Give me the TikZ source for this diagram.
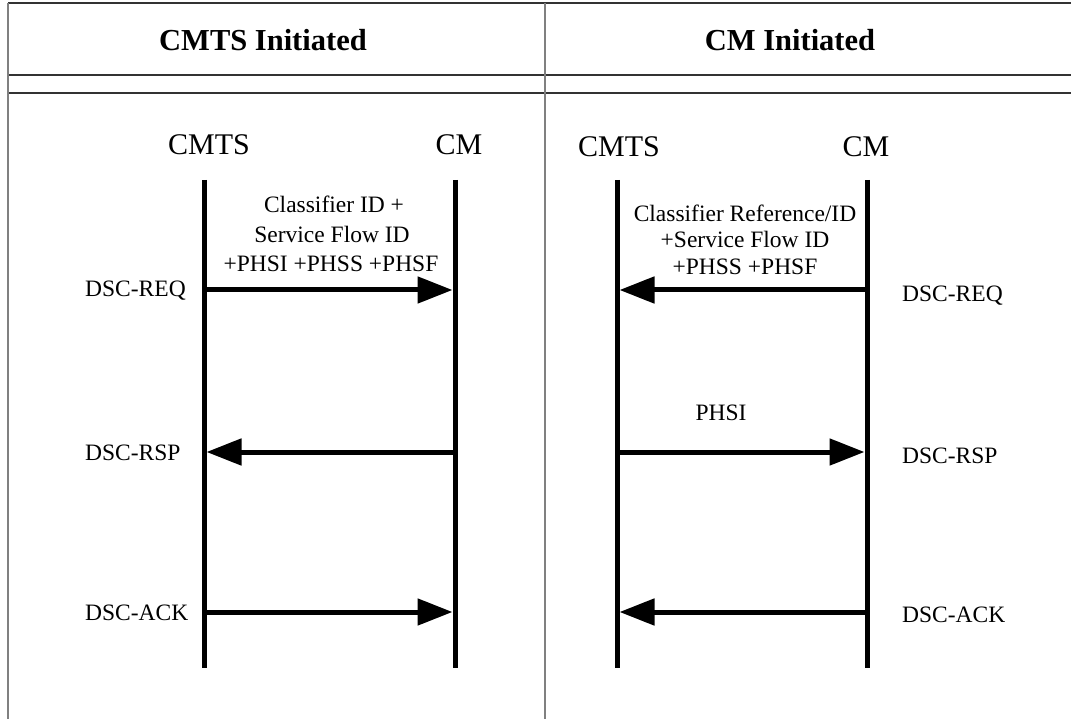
\documentclass[tikz,border=0pt]{standalone}
\usepackage{fontspec}
\setmainfont{Liberation Serif}
\usetikzlibrary{arrows.meta}
\begin{document}
\begin{tikzpicture}[x=1pt,y=-1pt,
 grid/.style={line width=1.3pt, black!80},
 vgrid/.style={line width=1.3pt, black!50},
 life/.style={line width=5pt},
 msg/.style={line width=5pt, -{Triangle[length=35pt,width=26pt]}, shorten >=2.5pt},
 hdr/.style={font=\fontsize{30.5}{34}\selectfont\bfseries, anchor=base, inner sep=0pt},
 ent/.style={font=\fontsize{30}{34}\selectfont, anchor=base, inner sep=0pt},
 lblL/.style={font=\fontsize{23.5}{28}\selectfont, anchor=base west, inner sep=0pt},
 txt/.style={font=\fontsize{23.5}{28}\selectfont, anchor=base, inner sep=0pt}]
\useasboundingbox (0,0) rectangle (1071,719);
% table
\draw[grid] (8,3) -- (1071,3);
\draw[grid] (8,75) -- (1071,75);
\draw[grid] (8,93) -- (1071,93);
\draw[vgrid] (8,3) -- (8,719);
\draw[vgrid] (545,3) -- (545,719);
% headers
\node[hdr] (h1) at (263,51) {CMTS Initiated};
\node[hdr] (h2) at (790,51) {CM Initiated};
% entities
\node[ent] (e1) at (209,155) {CMTS};
\node[ent] (e2) at (459,155) {CM};
\node[ent] (e3) at (619,157) {CMTS};
\node[ent] (e4) at (866,157) {CM};
% lifelines
\coordinate (A1) at (204,180); \coordinate (A2) at (204,668);
\coordinate (B1) at (455,180); \coordinate (B2) at (455,668);
\coordinate (C1) at (617,180); \coordinate (C2) at (617,668);
\coordinate (D1) at (867,180); \coordinate (D2) at (867,668);
\draw[life] (A1) -- (A2);
\draw[life] (B1) -- (B2);
\draw[life] (C1) -- (C2);
\draw[life] (D1) -- (D2);
% message points
\coordinate (a1) at (204,290); \coordinate (b1) at (455,290);
\coordinate (a2) at (204,452); \coordinate (b2) at (455,452);
\coordinate (a3) at (204,612); \coordinate (b3) at (455,612);
\coordinate (c1) at (617,290); \coordinate (d1) at (867,290);
\coordinate (c2) at (617,452); \coordinate (d2) at (867,452);
\coordinate (c3) at (617,612); \coordinate (d3) at (867,612);
\draw[msg] (a1) -- (b1);
\draw[msg] (b2) -- (a2);
\draw[msg] (a3) -- (b3);
\draw[msg] (d1) -- (c1);
\draw[msg] (c2) -- (d2);
\draw[msg] (d3) -- (c3);
% message texts
\node[txt] (t1a) at (334,213) {Classifier ID +};
\node[txt] (t1b) at (332,243) {Service Flow ID};
\node[txt] (t1c) at (331,272) {+PHSI +PHSS +PHSF};
\node[txt] (t2a) at (745,222) {Classifier Reference/ID};
\node[txt] (t2b) at (745,248) {+Service Flow ID};
\node[txt] (t2c) at (745,275) {+PHSS +PHSF};
\node[txt] (t3) at (721,420) {PHSI};
% side labels
\node[lblL] (l1) at (85,297) {DSC-REQ};
\node[lblL] (l2) at (85,460) {DSC-RSP};
\node[lblL] (l3) at (85,620) {DSC-ACK};
\node[lblL] (r1) at (902,302) {DSC-REQ};
\node[lblL] (r2) at (902,463) {DSC-RSP};
\node[lblL] (r3) at (902,622) {DSC-ACK};
\end{tikzpicture}
\end{document}
